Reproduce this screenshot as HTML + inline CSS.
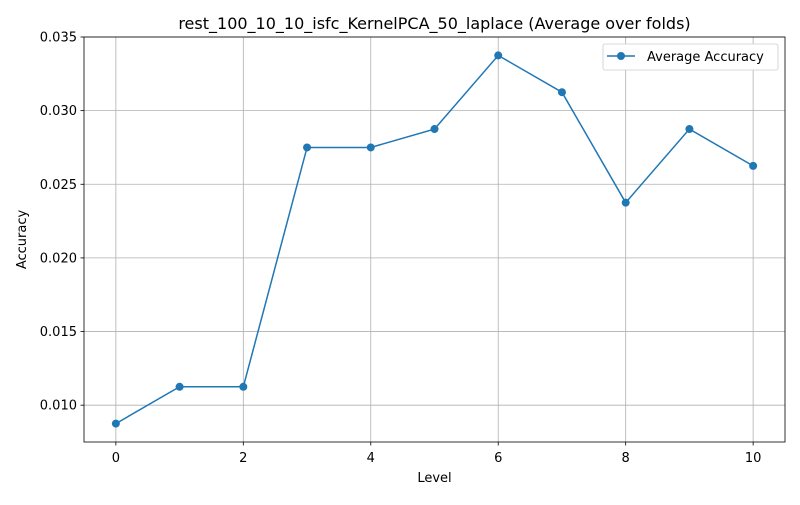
<!DOCTYPE html>
<html><head><meta charset="utf-8"><style>
body{margin:0;background:#fff;font-family:"Liberation Sans","DejaVu Sans",sans-serif}
svg text{font-family:"DejaVu Sans","Liberation Sans",sans-serif;fill:#000}
</style></head><body>
<svg id="c" width="800" height="500"></svg>
<script>
const levels=[0,1,2,3,4,5,6,7,8,9,10];
const accuracy=[0.00875,0.01125,0.01125,0.0275,0.0275,0.02875,0.03375,0.03125,0.02375,0.02875,0.02625];
const xTicks=[0,2,4,6,8,10];
const yTicks=[0.010,0.015,0.020,0.025,0.030,0.035];
const L=84,R=785,T=37,B=442,xmin=-0.5,xmax=10.5,ymin=0.0075,ymax=0.035;
const sx=v=>L+(v-xmin)/(xmax-xmin)*(R-L);
const sy=v=>B-(v-ymin)/(ymax-ymin)*(B-T);
const svg=document.getElementById('c');
const NS='http://www.w3.org/2000/svg';
function mk(t,a,txt){const e=document.createElementNS(NS,t);for(const k in a)e.setAttribute(k,a[k]);if(txt!==undefined)e.textContent=txt;svg.appendChild(e);return e;}
xTicks.forEach(v=>{const x=sx(v);
const g=mk('line',{x1:x,x2:x,y1:T,y2:B,stroke:'#b0b0b0','stroke-width':0.8});


mk('line',{x1:x,x2:x,y1:B,y2:B+3.5,stroke:'#000','stroke-width':0.8});
const t=mk('text',{x:x,y:B+20,'text-anchor':'middle','font-size':13},String(v));

});
yTicks.forEach(v=>{const y=sy(v);
const g=mk('line',{x1:L,x2:R,y1:y,y2:y,stroke:'#b0b0b0','stroke-width':0.8});


mk('line',{x1:L-3.5,x2:L,y1:y,y2:y,stroke:'#000','stroke-width':0.8});
const t=mk('text',{x:L-7,y:y+4.5,'text-anchor':'end','font-size':13},v.toFixed(3));

});
const fr=mk('rect',{x:L,y:T,width:R-L,height:B-T,fill:'none',stroke:'#000','stroke-width':0.8});


const pts=levels.map((l,i)=>sx(l)+','+sy(accuracy[i])).join(' ');
const pl=mk('polyline',{points:pts,fill:'none',stroke:'#1f77b4','stroke-width':1.5});


levels.forEach((l,i)=>{const c=mk('circle',{cx:sx(l),cy:sy(accuracy[i]),r:4,fill:'#1f77b4'});

});
const ti=mk('text',{x:(L+R)/2,y:29,'text-anchor':'middle','font-size':16},'rest_100_10_10_isfc_KernelPCA_50_laplace (Average over folds)');


const xl=mk('text',{x:(L+R)/2,y:482,'text-anchor':'middle','font-size':13},'Level');


const yl=mk('text',{x:26,y:(T+B)/2,'text-anchor':'middle','font-size':13,transform:'rotate(-90 26 '+((T+B)/2)+')'},'Accuracy');


const lg=mk('rect',{x:603,y:44,width:175,height:26,fill:'#fff',stroke:'#ccc','stroke-width':0.8,rx:2});


mk('line',{x1:607,x2:635,y1:56,y2:56,stroke:'#1f77b4','stroke-width':1.5});
mk('circle',{cx:621,cy:56,r:4,fill:'#1f77b4'});
const lt=mk('text',{x:647,y:61,'font-size':13},'Average Accuracy');


</script>
</body></html>
